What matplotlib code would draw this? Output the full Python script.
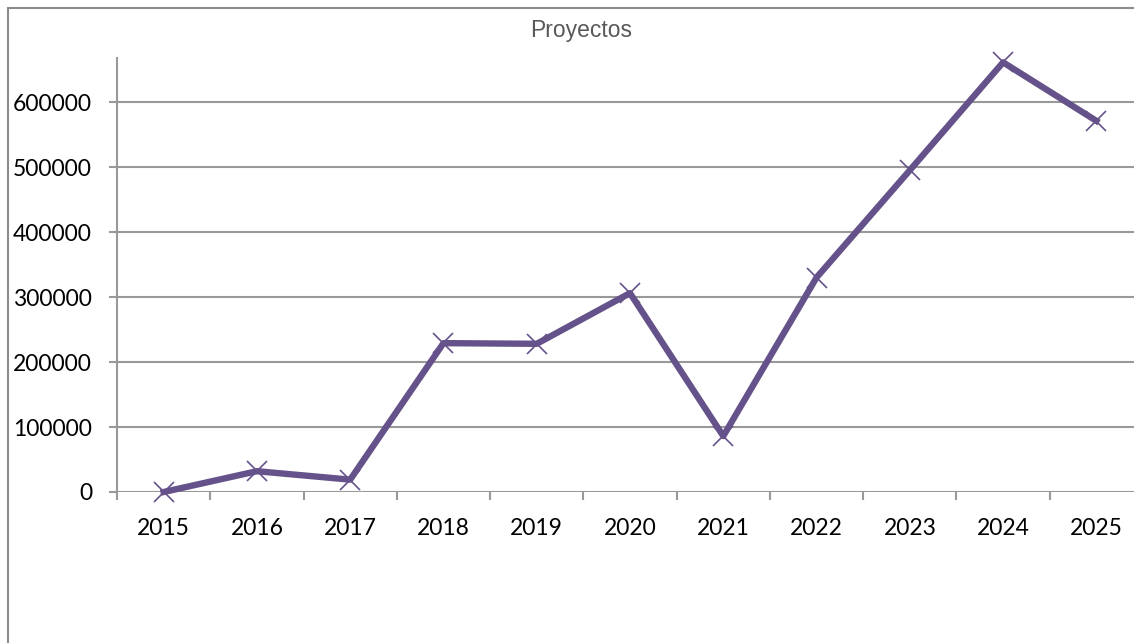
import matplotlib
matplotlib.use("Agg")
import matplotlib.pyplot as plt
from matplotlib.patches import Rectangle

# data
years = ["2015", "2016", "2017", "2018", "2019", "2020",
         "2021", "2022", "2023", "2024", "2025"]
proyectos = [0, 32000, 19000, 229000, 228000, 306000,
             86000, 330000, 495000, 661000, 571000]
y_ticks = [0, 100000, 200000, 300000, 400000, 500000, 600000]

line_col = "#66528a"
grid_col = "#999999"

fig = plt.figure(figsize=(11.34, 6.43), dpi=100)

# outer chart border (cut off at the right and bottom in the reference)
fig.patches.append(Rectangle((8 / 1134, -0.1), 1.2, 1 - 8 / 643 + 0.1,
                             transform=fig.transFigure, fill=False,
                             edgecolor="#8c8c8c", linewidth=1.5))

ax = fig.add_axes([117 / 1134, 151 / 643, 1026 / 1134, 434 / 643])
x = list(range(len(years)))
ax.plot(x, proyectos, color=line_col, linewidth=4.6, marker="x",
        markersize=14, markeredgewidth=1.2, markeredgecolor=line_col,
        clip_on=False, zorder=3)

ax.set_xlim(-0.5, len(years) - 0.5)
ax.set_ylim(0, 667700)

ax.set_yticks(y_ticks)
ax.set_yticklabels([str(v) for v in y_ticks])
ax.yaxis.grid(True, color=grid_col, linewidth=1.5)
ax.set_axisbelow(True)

# labels at category centres, tick marks between categories
ax.set_xticks(x)
ax.set_xticklabels(years)
ax.set_xticks([i - 0.5 for i in range(len(years) + 1)], minor=True)
ax.tick_params(axis="x", which="major", length=0, pad=19)
ax.tick_params(axis="x", which="minor", length=6, width=1.5, color=grid_col)
ax.tick_params(axis="y", length=6, width=1.5, color=grid_col, pad=12)

for lbl in ax.get_xticklabels() + ax.get_yticklabels():
    lbl.set_fontfamily("Lato")
    lbl.set_fontsize(16.5)
    lbl.set_color("black")

for side in ["top", "right", "bottom"]:
    ax.spines[side].set_visible(False)
ax.spines["left"].set_color(grid_col)
ax.spines["left"].set_linewidth(1.5)

fig.text(581 / 1134, 1 - 31 / 643, "Proyectos", ha="center", va="center",
         fontsize=16.5, color="#595959", family="Liberation Sans")

fig.savefig("out.png", dpi=100)
